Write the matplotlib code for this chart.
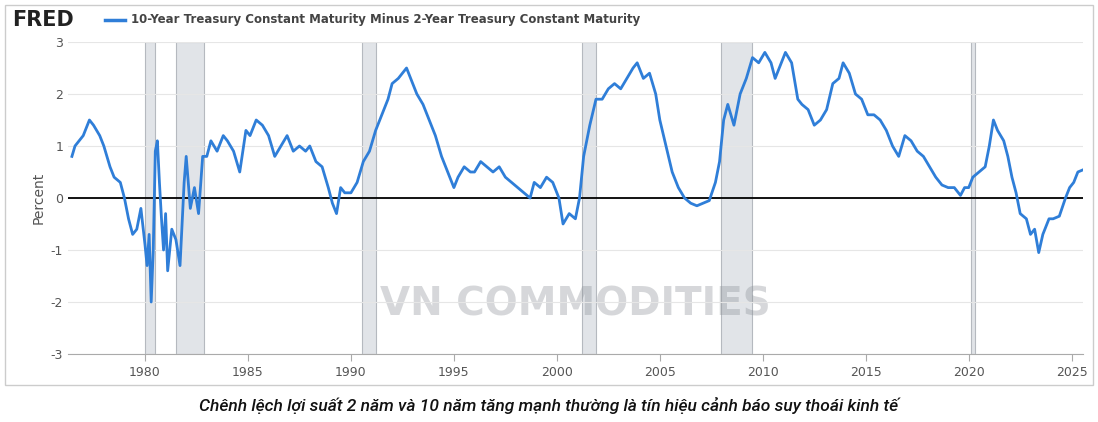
import matplotlib
matplotlib.use("Agg")
import matplotlib.pyplot as plt
plt.rcParams["axes.unicode_minus"] = False

years = [1976.45,1976.6,1977.0,1977.3,1977.5,1977.8,1978.0,1978.3,1978.5,1978.8,1979.0,1979.2,1979.4,1979.6,1979.8,1980.0,1980.1,1980.2,1980.3,1980.4,1980.5,1980.6,1980.7,1980.8,1980.9,1981.0,1981.1,1981.3,1981.5,1981.7,1981.9,1982.0,1982.2,1982.4,1982.6,1982.8,1983.0,1983.2,1983.5,1983.8,1984.0,1984.3,1984.6,1984.9,1985.1,1985.4,1985.7,1986.0,1986.3,1986.6,1986.9,1987.2,1987.5,1987.8,1988.0,1988.3,1988.6,1988.9,1989.1,1989.3,1989.5,1989.7,1990.0,1990.3,1990.6,1990.9,1991.2,1991.5,1991.8,1992.0,1992.3,1992.5,1992.7,1992.9,1993.2,1993.5,1993.8,1994.1,1994.4,1994.7,1995.0,1995.2,1995.5,1995.8,1996.0,1996.3,1996.6,1996.9,1997.2,1997.5,1997.8,1998.1,1998.4,1998.7,1998.9,1999.2,1999.5,1999.8,2000.1,2000.3,2000.6,2000.9,2001.1,2001.3,2001.6,2001.9,2002.2,2002.5,2002.8,2003.1,2003.4,2003.7,2003.9,2004.2,2004.5,2004.8,2005.0,2005.3,2005.6,2005.9,2006.2,2006.5,2006.8,2007.1,2007.4,2007.7,2007.9,2008.1,2008.3,2008.6,2008.9,2009.2,2009.5,2009.8,2010.1,2010.4,2010.6,2010.9,2011.1,2011.4,2011.7,2011.9,2012.2,2012.5,2012.8,2013.1,2013.4,2013.7,2013.9,2014.2,2014.5,2014.8,2015.1,2015.4,2015.7,2016.0,2016.3,2016.6,2016.9,2017.2,2017.5,2017.8,2018.1,2018.4,2018.7,2019.0,2019.3,2019.6,2019.8,2020.0,2020.2,2020.5,2020.8,2021.0,2021.2,2021.4,2021.7,2021.9,2022.1,2022.3,2022.5,2022.8,2023.0,2023.2,2023.4,2023.6,2023.9,2024.1,2024.4,2024.7,2024.9,2025.1,2025.3,2025.6]
spread = [0.8,1.0,1.2,1.5,1.4,1.2,1.0,0.6,0.4,0.3,0.0,-0.4,-0.7,-0.6,-0.2,-0.9,-1.3,-0.7,-2.0,-1.0,0.9,1.1,0.3,-0.4,-1.0,-0.3,-1.4,-0.6,-0.8,-1.3,0.3,0.8,-0.2,0.2,-0.3,0.8,0.8,1.1,0.9,1.2,1.1,0.9,0.5,1.3,1.2,1.5,1.4,1.2,0.8,1.0,1.2,0.9,1.0,0.9,1.0,0.7,0.6,0.2,-0.1,-0.3,0.2,0.1,0.1,0.3,0.7,0.9,1.3,1.6,1.9,2.2,2.3,2.4,2.5,2.3,2.0,1.8,1.5,1.2,0.8,0.5,0.2,0.4,0.6,0.5,0.5,0.7,0.6,0.5,0.6,0.4,0.3,0.2,0.1,0.0,0.3,0.2,0.4,0.3,0.0,-0.5,-0.3,-0.4,0.0,0.8,1.4,1.9,1.9,2.1,2.2,2.1,2.3,2.5,2.6,2.3,2.4,2.0,1.5,1.0,0.5,0.2,0.0,-0.1,-0.15,-0.1,-0.05,0.3,0.7,1.5,1.8,1.4,2.0,2.3,2.7,2.6,2.8,2.6,2.3,2.6,2.8,2.6,1.9,1.8,1.7,1.4,1.5,1.7,2.2,2.3,2.6,2.4,2.0,1.9,1.6,1.6,1.5,1.3,1.0,0.8,1.2,1.1,0.9,0.8,0.6,0.4,0.25,0.2,0.2,0.05,0.2,0.2,0.4,0.5,0.6,1.0,1.5,1.3,1.1,0.8,0.4,0.1,-0.3,-0.4,-0.7,-0.6,-1.05,-0.7,-0.4,-0.4,-0.35,0.0,0.2,0.3,0.5,0.55]
rec_start = [1980.0, 1981.5, 1990.55, 2001.2, 2007.95, 2020.1]
rec_end = [1980.5, 1982.85, 1991.2, 2001.88, 2009.5, 2020.3]
xticks = [1980, 1985, 1990, 1995, 2000, 2005, 2010, 2015, 2020, 2025]
yticks = [-3, -2, -1, 0, 1, 2, 3]

fig = plt.figure(figsize=(10.98, 4.22), dpi=100)
fig.patches.append(plt.Rectangle((5/1098, 37/422), 1088/1098, 380/422, transform=fig.transFigure,
                                 fill=False, ec="#cccccc", lw=1))
ax = fig.add_axes([68/1098, 68/422, 1015/1098, 312/422])
for s, e in zip(rec_start, rec_end):
    ax.axvspan(s, e, color="#e1e4e8", ec="#b5b9bf", lw=0.8, zorder=0)
ax.plot(years, spread, color="#2f7ed8", lw=2, zorder=3)
ax.axhline(0, color="black", lw=1.3, zorder=2)
ax.set_xlim(1976.26, 2025.55)
ax.set_ylim(-3, 3)
ax.set_xticks(xticks)
ax.set_yticks(yticks)
ax.tick_params(labelsize=9, colors="#555555", length=0)
ax.tick_params(axis="x", length=5, color="#aaaaaa")
ax.grid(axis="y", color="#e6e6e6", lw=0.8)
for sp in ax.spines.values():
    sp.set_visible(False)
ax.spines["bottom"].set_visible(True)
ax.spines["bottom"].set_color("#aaaaaa")
ax.set_ylabel("Percent", fontsize=10, color="#555555")
ax.text(0.5, 0.16, "VN COMMODITIES", transform=ax.transAxes, ha="center", va="center",
        fontsize=28, fontweight="bold", color="#8a8f96", alpha=0.35, zorder=1)

fig.text(12/1098, 1-20/422, "FRED", fontsize=15, fontweight="bold", color="#222222", va="center")
fig.add_artist(plt.Line2D([105/1098, 125/1098], [1-20/422]*2, color="#2f7ed8", lw=2.5))
fig.text(131/1098, 1-20/422, "10-Year Treasury Constant Maturity Minus 2-Year Treasury Constant Maturity",
         fontsize=8.5, fontweight="bold", color="#444444", va="center")
fig.text(0.5, 1-405/422, "Chênh lệch lợi suất 2 năm và 10 năm tăng mạnh thường là tín hiệu cảnh báo suy thoái kinh tế",
         ha="center", va="center", fontsize=12.5, style="italic", fontweight="medium", family="Roboto", color="#111111")
fig.savefig("out.png", dpi=100)
